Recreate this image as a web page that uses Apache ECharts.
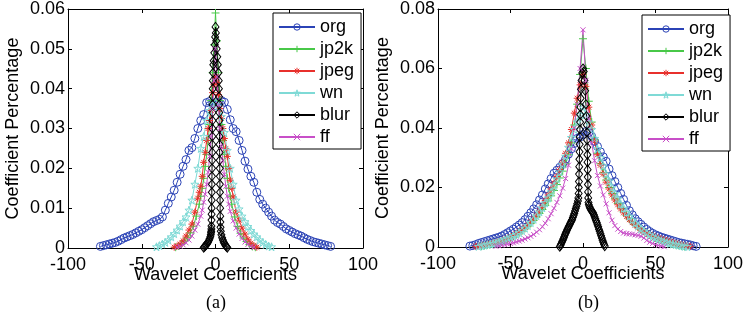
<!DOCTYPE html>
<html><head><meta charset="utf-8">
<script src="https://cdn.jsdelivr.net/npm/echarts@6/dist/echarts.min.js"></script>
<style>html,body{margin:0;padding:0;background:#fff}#c{width:746px;height:320px}</style>
</head><body><div id="c"></div>
<script>
// ---------- data ----------
const seriesNames = ['org', 'jp2k', 'jpeg', 'wn', 'blur', 'ff'];
const xTicksA = [-100, -50, 0, 50, 100];
const yTicksA = [0, 0.01, 0.02, 0.03, 0.04, 0.05, 0.06];
const yTicksB = [0, 0.02, 0.04, 0.06, 0.08];
const xLabel = 'Wavelet Coefficients';
const yLabel = 'Coefficient Percentage';
const panelLabels = ['(a)', '(b)'];

// panel (a)
const orgA = [[-78,.0004],[-76,.0006],[-74,.0008],[-72,.0010],[-70,.0012],[-68,.0014],[-66,.0017],[-64,.0021],[-62,.0025],[-60,.0028],[-58,.0031],[-56,.0034],[-54,.0038],[-52,.0042],[-50,.0046],[-48,.0051],[-46,.0056],[-44,.0061],[-42,.0066],[-40,.0069],[-38,.0072],[-36,.0078],[-34,.0095],[-32,.0112],[-30,.0128],[-28,.0145],[-26,.0165],[-24,.0185],[-22,.0205],[-20,.0222],[-18,.0245],[-16,.0252],[-14,.0275],[-12,.0300],[-10,.0320],[-8,.0335],[-6,.0365],[-4,.0368],[-2,.0362],[0,.0358],[2,.0365],[4,.0370],[6,.0366],[8,.0348],[10,.0322],[12,.0300],[14,.0292],[16,.0270],[18,.0245],[20,.0218],[22,.0198],[24,.0180],[26,.0165],[28,.0140],[30,.0122],[32,.0110],[34,.0100],[36,.0090],[38,.0080],[40,.0070],[42,.0064],[44,.0060],[46,.0054],[48,.0048],[50,.0044],[52,.0040],[54,.0036],[56,.0033],[58,.0030],[60,.0026],[62,.0022],[64,.0019],[66,.0016],[68,.0014],[70,.0012],[72,.0010],[74,.0008],[76,.0006],[78,.0004]];
const jp2kA = [[-27,.0002],[-25,.0005],[-23,.0010],[-21,.0017],[-19,.0026],[-17,.0038],[-15,.0055],[-13,.0080],[-11,.0110],[-10,.0130],[-9,.0150],[-8,.0175],[-7,.0205],[-6,.0235],[-5,.0270],[-4,.0310],[-3,.0370],[-2,.0440],[-1,.0510],[0,.0590],[1,.0520],[2,.0440],[3,.0370],[4,.0310],[5,.0270],[6,.0235],[7,.0205],[8,.0175],[9,.0150],[10,.0130],[11,.0110],[13,.0078],[15,.0054],[17,.0037],[19,.0025],[21,.0016],[23,.0009],[25,.0004],[27,.0002]];
const jpegA = [[-28,.0002],[-26,.0005],[-24,.0010],[-22,.0018],[-20,.0030],[-18,.0045],[-16,.0060],[-14,.0090],[-12,.0125],[-11,.0140],[-10,.0155],[-9,.0180],[-8,.0215],[-7,.0240],[-6,.0270],[-5,.0300],[-4,.0320],[-3,.0345],[-2,.0390],[-1,.0410],[0,.0430],[1,.0415],[2,.0385],[3,.0350],[4,.0325],[5,.0300],[6,.0275],[7,.0250],[8,.0230],[9,.0200],[10,.0170],[11,.0150],[12,.0128],[14,.0090],[16,.0070],[18,.0050],[20,.0035],[22,.0022],[24,.0012],[26,.0006],[28,.0002]];
const wnA = [[-40,.0003],[-38,.0006],[-36,.0010],[-34,.0014],[-32,.0020],[-30,.0028],[-28,.0036],[-26,.0045],[-24,.0055],[-22,.0066],[-20,.0078],[-18,.0095],[-16,.0120],[-14,.0160],[-12,.0200],[-10,.0250],[-8,.0280],[-6,.0320],[-4,.0345],[-2,.0360],[0,.0365],[2,.0355],[4,.0330],[6,.0290],[8,.0245],[10,.0200],[12,.0160],[14,.0120],[16,.0098],[18,.0080],[20,.0066],[22,.0054],[24,.0044],[26,.0035],[28,.0028],[30,.0020],[32,.0014],[34,.0009],[36,.0005],[38,.0003]];
const blurA = [[-8,.0001],[-7.5,.0003],[-7,.0005],[-6.5,.0007],[-6,.0009],[-5.5,.0012],[-5,.0015],[-4.5,.0019],[-4,.0023],[-3.5,.0028],[-3.2,.0033],[-3,.0038],[-2.9,.0042],[-2.8,.0048],[-2.75,.0055],[-2.7,.0070],[-2.65,.0085],[-2.6,.0100],[-2.55,.0120],[-2.5,.0140],[-2.45,.0160],[-2.4,.0180],[-2.35,.0200],[-2.3,.0220],[-2.25,.0240],[-2.2,.0260],[-2.15,.0280],[-2.1,.0300],[-2.05,.0320],[-2,.0340],[-1.95,.0360],[-1.9,.0380],[-1.85,.0400],[-1.8,.0420],[-1.7,.0440],[-1.5,.0460],[-1.2,.0470],[-0.8,.0490],[-0.5,.0510],[-0.25,.0530],[0,.0555],[0.25,.0540],[0.5,.0520],[0.8,.0500],[1.2,.0480],[1.6,.0460],[2,.0440],[2.2,.0420],[2.3,.0400],[2.4,.0380],[2.5,.0360],[2.55,.0340],[2.6,.0320],[2.65,.0300],[2.7,.0280],[2.75,.0260],[2.8,.0240],[2.85,.0220],[2.9,.0200],[2.95,.0180],[3,.0160],[3.05,.0140],[3.1,.0120],[3.15,.0100],[3.2,.0080],[3.3,.0065],[3.4,.0052],[3.6,.0042],[4,.0033],[4.5,.0026],[5,.0020],[5.5,.0015],[6,.0011],[6.5,.0008],[7,.0005],[7.5,.0003],[8,.0001]];
const ffA = [[-26,.0002],[-24,.0004],[-22,.0008],[-20,.0013],[-18,.0020],[-16,.0030],[-14,.0045],[-12,.0060],[-10,.0080],[-9,.0095],[-8,.0115],[-7,.0135],[-6,.0160],[-5,.0190],[-4,.0230],[-3,.0280],[-2,.0350],[-1,.0420],[0,.0500],[1,.0430],[2,.0360],[3,.0300],[4,.0255],[5,.0220],[6,.0185],[7,.0155],[8,.0130],[9,.0110],[10,.0092],[12,.0068],[14,.0050],[16,.0035],[18,.0024],[20,.0015],[22,.0009],[24,.0004],[26,.0002]];

// panel (b)
const orgB = [[-78,.0003],[-76,.0005],[-74,.0008],[-72,.0012],[-70,.0015],[-68,.0018],[-66,.0021],[-64,.0024],[-62,.0027],[-60,.0030],[-58,.0033],[-56,.0037],[-54,.0042],[-52,.0048],[-50,.0054],[-48,.0060],[-46,.0067],[-44,.0074],[-42,.0082],[-40,.0092],[-38,.0103],[-36,.0115],[-34,.0128],[-32,.0142],[-30,.0158],[-28,.0175],[-26,.0195],[-24,.0212],[-22,.0230],[-20,.0248],[-18,.0258],[-16,.0268],[-14,.0280],[-12,.0295],[-10,.0312],[-8,.0330],[-6,.0348],[-4,.0365],[-2,.0370],[0,.0378],[2,.0388],[4,.0385],[6,.0372],[8,.0355],[10,.0338],[12,.0320],[14,.0303],[16,.0288],[18,.0262],[20,.0240],[22,.0220],[24,.0200],[26,.0180],[28,.0160],[30,.0140],[32,.0122],[34,.0108],[36,.0095],[38,.0085],[40,.0076],[42,.0067],[44,.0059],[46,.0052],[48,.0046],[50,.0041],[52,.0037],[54,.0033],[56,.0030],[58,.0027],[60,.0024],[62,.0021],[64,.0018],[66,.0015],[68,.0013],[70,.0011],[72,.0009],[74,.0007],[76,.0004],[78,.0002]];
const jp2kB = [[-70,.0003],[-68,.0005],[-66,.0007],[-64,.0009],[-62,.0011],[-60,.0013],[-58,.0016],[-56,.0019],[-54,.0023],[-52,.0027],[-50,.0031],[-48,.0036],[-46,.0042],[-44,.0048],[-42,.0055],[-40,.0063],[-38,.0071],[-36,.0080],[-34,.0090],[-32,.0101],[-30,.0113],[-28,.0126],[-26,.0140],[-24,.0155],[-22,.0172],[-20,.0190],[-18,.0210],[-16,.0232],[-14,.0255],[-12,.0280],[-10,.0310],[-8,.0350],[-6,.0410],[-4,.0480],[-2,.0580],[0,.0700],[2,.0600],[4,.0490],[6,.0420],[8,.0360],[10,.0315],[12,.0280],[14,.0250],[16,.0225],[18,.0200],[20,.0180],[22,.0162],[24,.0146],[26,.0131],[28,.0118],[30,.0106],[32,.0095],[34,.0085],[36,.0076],[38,.0068],[40,.0060],[42,.0053],[44,.0047],[46,.0041],[48,.0036],[50,.0031],[52,.0027],[54,.0023],[56,.0019],[58,.0016],[60,.0013],[62,.0010],[64,.0008],[66,.0006],[68,.0004],[70,.0002]];
const jpegB = [[-74,.0002],[-72,.0004],[-70,.0006],[-68,.0008],[-66,.0010],[-64,.0012],[-62,.0014],[-60,.0016],[-58,.0019],[-56,.0022],[-54,.0026],[-52,.0030],[-50,.0034],[-48,.0039],[-46,.0045],[-44,.0051],[-42,.0058],[-40,.0066],[-38,.0075],[-36,.0085],[-34,.0096],[-32,.0108],[-30,.0122],[-28,.0138],[-26,.0156],[-24,.0175],[-22,.0195],[-20,.0215],[-18,.0237],[-16,.0260],[-14,.0285],[-12,.0315],[-10,.0350],[-8,.0395],[-6,.0450],[-4,.0500],[-2,.0545],[0,.0580],[2,.0540],[4,.0470],[6,.0410],[8,.0355],[10,.0310],[12,.0275],[14,.0245],[16,.0218],[18,.0195],[20,.0175],[22,.0158],[24,.0142],[26,.0128],[28,.0115],[30,.0103],[32,.0092],[34,.0082],[36,.0073],[38,.0065],[40,.0058],[42,.0052],[44,.0046],[46,.0041],[48,.0037],[50,.0033],[52,.0030],[54,.0027],[56,.0024],[58,.0021],[60,.0018],[62,.0015],[64,.0012],[66,.0010],[68,.0008],[70,.0006],[72,.0004],[74,.0002]];
const wnB = [[-72,.0002],[-70,.0004],[-68,.0006],[-66,.0008],[-64,.0010],[-62,.0012],[-60,.0014],[-58,.0017],[-56,.0020],[-54,.0024],[-52,.0028],[-50,.0032],[-48,.0037],[-46,.0042],[-44,.0048],[-42,.0055],[-40,.0063],[-38,.0072],[-36,.0082],[-34,.0093],[-32,.0105],[-30,.0118],[-28,.0132],[-26,.0148],[-24,.0165],[-22,.0185],[-20,.0205],[-18,.0228],[-16,.0252],[-14,.0278],[-12,.0305],[-10,.0335],[-8,.0368],[-6,.0395],[-4,.0420],[-2,.0445],[0,.0470],[2,.0445],[4,.0420],[6,.0395],[8,.0365],[10,.0330],[12,.0300],[14,.0272],[16,.0245],[18,.0222],[20,.0200],[22,.0180],[24,.0162],[26,.0145],[28,.0130],[30,.0116],[32,.0103],[34,.0091],[36,.0080],[38,.0070],[40,.0061],[42,.0053],[44,.0046],[46,.0040],[48,.0034],[50,.0029],[52,.0025],[54,.0021],[56,.0018],[58,.0015],[60,.0012],[62,.0010],[64,.0008],[66,.0006],[68,.0004],[70,.0002],[72,.0001]];
const blurB = [[-16,.0001],[-15.5,.0006],[-15,.0011],[-14.5,.0017],[-14,.0022],[-13.5,.0028],[-13,.0034],[-12.5,.0040],[-12,.0046],[-11.5,.0051],[-11,.0057],[-10.5,.0062],[-10,.0067],[-9.5,.0072],[-9,.0077],[-8.5,.0082],[-8,.0087],[-7.5,.0092],[-7,.0099],[-6.5,.0106],[-6,.0113],[-5.5,.0121],[-5,.0129],[-4.5,.0137],[-4,.0145],[-3.5,.0155],[-3.2,.0165],[-3,.0180],[-2.9,.0200],[-2.8,.0220],[-2.7,.0245],[-2.6,.0270],[-2.5,.0295],[-2.4,.0320],[-2.3,.0345],[-2.2,.0370],[-2.1,.0395],[-2,.0420],[-1.9,.0445],[-1.8,.0470],[-1.6,.0500],[-1.4,.0530],[-1,.0560],[-0.5,.0585],[0,.0600],[0.5,.0590],[1,.0560],[1.5,.0525],[2,.0480],[2.4,.0440],[2.6,.0410],[2.7,.0385],[2.8,.0360],[2.9,.0335],[3,.0310],[3.1,.0285],[3.2,.0260],[3.3,.0235],[3.4,.0210],[3.5,.0185],[3.6,.0165],[3.8,.0150],[4,.0142],[4.5,.0135],[5,.0129],[5.5,.0125],[6,.0121],[6.5,.0118],[7,.0114],[7.5,.0108],[8,.0102],[8.5,.0095],[9,.0088],[9.5,.0082],[10,.0075],[10.5,.0068],[11,.0060],[11.5,.0053],[12,.0045],[12.5,.0038],[13,.0030],[13.5,.0023],[14,.0016],[14.5,.0009],[15,.0003]];
const ffB = [[-60,.0002],[-58,.0004],[-56,.0006],[-54,.0008],[-52,.0010],[-50,.0012],[-48,.0014],[-46,.0017],[-44,.0020],[-42,.0023],[-40,.0027],[-38,.0031],[-36,.0036],[-34,.0042],[-32,.0050],[-30,.0058],[-28,.0068],[-26,.0080],[-24,.0095],[-22,.0112],[-20,.0130],[-18,.0150],[-16,.0172],[-14,.0198],[-12,.0230],[-10,.0275],[-8,.0330],[-6,.0400],[-4,.0480],[-2,.0600],[0,.0730],[2,.0560],[4,.0430],[6,.0350],[8,.0290],[10,.0240],[12,.0205],[14,.0175],[16,.0145],[18,.0115],[20,.0090],[22,.0072],[24,.0060],[26,.0052],[28,.0047],[30,.0045],[32,.0044],[34,.0043],[36,.0041],[38,.0039],[40,.0036],[42,.0030],[44,.0022],[46,.0016],[48,.0012],[50,.0008],[52,.0005],[54,.0003],[56,.0001]];

const panelA = [orgA, jp2kA, jpegA, wnA, blurA, ffA];
const panelB = [orgB, jp2kB, jpegB, wnB, blurB, ffB];

// ---------- styles ----------
const FONT = 'Liberation Sans, Arial, Helvetica, sans-serif';
const styles = {
  org:  {color: '#2b43b6', symbol: 'circle', size: 8},
  jp2k: {color: '#48c848', symbol: 'path://M0,5L10,5M5,0L5,10', size: 8},
  jpeg: {color: '#e8302c', symbol: 'path://M0,5L10,5M5,0L5,10M1.5,1.5L8.5,8.5M1.5,8.5L8.5,1.5', size: 7},
  wn:   {color: '#7fdad6', symbol: 'path://M5,0L6.18,3.38L9.76,3.45L6.9,5.62L7.94,9.05L5,7L2.06,9.05L3.1,5.62L0.24,3.45L3.82,3.38Z', size: 8},
  blur: {color: '#000000', symbol: 'diamond', size: [7, 9]},
  ff:   {color: '#c84fc8', symbol: 'path://M0,0L10,10M0,10L10,0', size: 5}
};

function mkSeries(name, data, idx) {
  const s = styles[name];
  return {
    type: 'line', name: name, data: data,
    xAxisIndex: idx * 2, yAxisIndex: idx * 2,
    symbol: s.symbol, symbolSize: s.size, showSymbol: true,
    lineStyle: {color: s.color, width: 1},
    itemStyle: {color: 'none', borderColor: s.color, borderWidth: 1},
    emphasis: {disabled: true},
    clip: true
  };
}

const axisCommon = {
  axisLine: {show: true, onZero: false, lineStyle: {color: '#000', width: 1}},
  axisTick: {show: true, inside: true, length: 4, lineStyle: {color: '#000'}},
  splitLine: {show: false}
};

function xAxes(gi) {
  return [
    Object.assign({}, axisCommon, {
      gridIndex: gi, type: 'value', position: 'bottom', min: xTicksA[0], max: xTicksA[xTicksA.length - 1], interval: 50,
      axisLabel: {show: true, fontSize: 18, fontFamily: FONT, color: '#000', margin: 8, showMinLabel: true, showMaxLabel: true},
      name: xLabel, nameLocation: 'middle', nameGap: 18, nameMoveOverlap: false,
      nameTextStyle: {fontSize: 18, fontFamily: FONT, color: '#000', verticalAlign: 'top'}
    }),
    Object.assign({}, axisCommon, {
      gridIndex: gi, type: 'value', position: 'top', min: xTicksA[0], max: xTicksA[xTicksA.length - 1], interval: 50,
      axisLabel: {show: false}
    })
  ];
}
function yAxes(gi, ticks) {
  const mx = ticks[ticks.length - 1], iv = ticks[1] - ticks[0];
  return [
    Object.assign({}, axisCommon, {
      gridIndex: gi, type: 'value', position: 'left', min: 0, max: mx, interval: iv,
      axisLabel: {show: true, fontSize: 18, fontFamily: FONT, color: '#000', margin: 3, showMinLabel: true, showMaxLabel: true,
        formatter: v => String(+v.toFixed(2))},
      name: yLabel, nameLocation: 'middle', nameGap: 46,
      nameTextStyle: {fontSize: 18, fontFamily: FONT, color: '#000'}
    }),
    Object.assign({}, axisCommon, {
      gridIndex: gi, type: 'value', position: 'right', min: 0, max: mx, interval: iv,
      axisLabel: {show: false}
    })
  ];
}

function mkLegend(left, top) {
  return {
    orient: 'vertical', left: left, top: top,
    data: seriesNames,
    itemWidth: 36, itemHeight: 8, itemGap: 4,
    padding: [5, 7, 3, 5],
    borderColor: '#000', borderWidth: 1, backgroundColor: '#fff',
    itemStyle: {color: 'none', borderWidth: 1},
    textStyle: {fontSize: 18, fontFamily: FONT, color: '#000', lineHeight: 18},
    selectedMode: false
  };
}

const series = [];
seriesNames.forEach((n, i) => series.push(mkSeries(n, panelA[i], 0)));
seriesNames.forEach((n, i) => series.push(mkSeries(n, panelB[i], 1)));

const chart = echarts.init(document.getElementById('c'), null, {renderer: 'canvas'});
chart.setOption({
  animation: false,
  backgroundColor: '#fff',
  grid: [
    {left: 68, top: 7, width: 295, height: 241, containLabel: false},
    {left: 438, top: 9, width: 293, height: 238, containLabel: false}
  ],
  xAxis: xAxes(0).concat(xAxes(1)),
  yAxis: yAxes(0, yTicksA).concat(yAxes(1, yTicksB)),
  legend: [mkLegend(273, 13), mkLegend(642, 15)],
  series: series,
  graphic: [
    {type: 'text', left: 206, top: 294, style: {text: panelLabels[0], font: '18px "Liberation Serif", "Times New Roman", serif', fill: '#000'}},
    {type: 'text', left: 578, top: 294, style: {text: panelLabels[1], font: '18px "Liberation Serif", "Times New Roman", serif', fill: '#000'}}
  ]
});
</script></body></html>
